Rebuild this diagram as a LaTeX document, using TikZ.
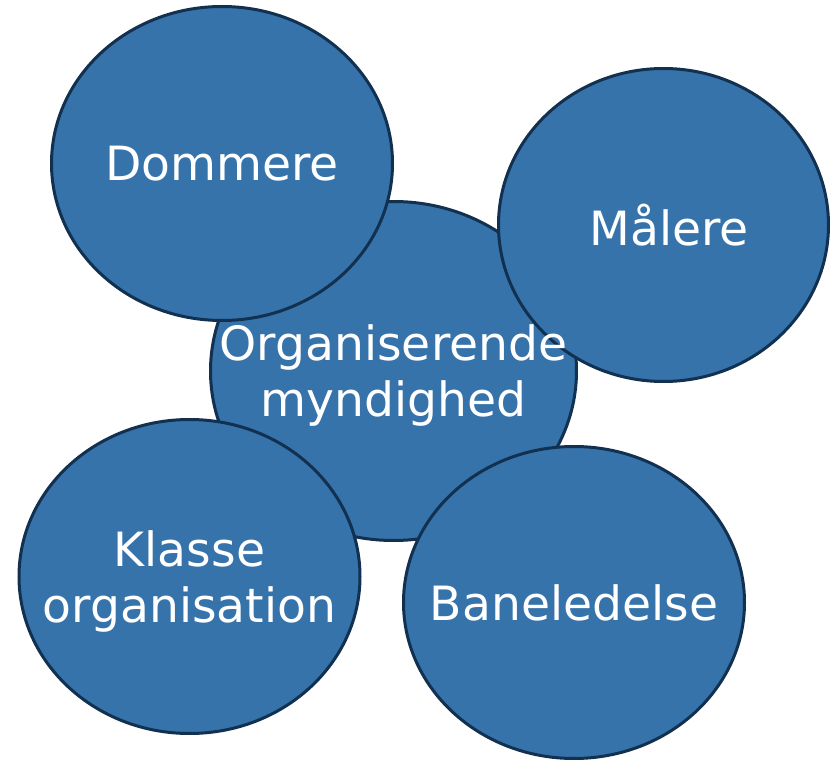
\documentclass[tikz,border=0pt]{standalone}
\usepackage{fontspec}
\setmainfont{DejaVu Sans}
\usetikzlibrary{shapes.geometric}
\definecolor{fillblue}{HTML}{3673AB}
\definecolor{edgeblue}{HTML}{12304F}
\tikzset{
  blob/.style={ellipse, draw=edgeblue, line width=3pt, fill=fillblue, inner sep=0pt},
  lbl/.style={text=white, align=center, inner sep=0pt, text depth=0pt,
    font=\fontsize{47.2}{56}\selectfont}
}
\begin{document}
\begin{tikzpicture}[x=1pt,y=-1pt]
\useasboundingbox (0,0) rectangle (831,762);
\node[blob, minimum width=366pt, minimum height=339pt] (org) at (393.5,371) {};
\node[blob, minimum width=341pt, minimum height=314pt] (dom) at (222,163.5) {};
\node[blob, minimum width=330pt, minimum height=313pt] (mal) at (663.5,225) {};
\node[blob, minimum width=341pt, minimum height=314pt] (kla) at (189.5,576.5) {};
\node[blob, minimum width=341pt, minimum height=312pt] (ban) at (574,602.5) {};
\node[lbl] (torg) at (org.center) {Organiserende\\myndighed};
\node[lbl] (tdom) at (dom.center) {Dommere};
\node[lbl] (tmal) at ([xshift=5.5pt]mal.center) {Målere};
\node[lbl] (tkla) at (kla.center) {Klasse\\organisation};
\node[lbl] (tban) at (ban.center) {Baneledelse};
\end{tikzpicture}
\end{document}
